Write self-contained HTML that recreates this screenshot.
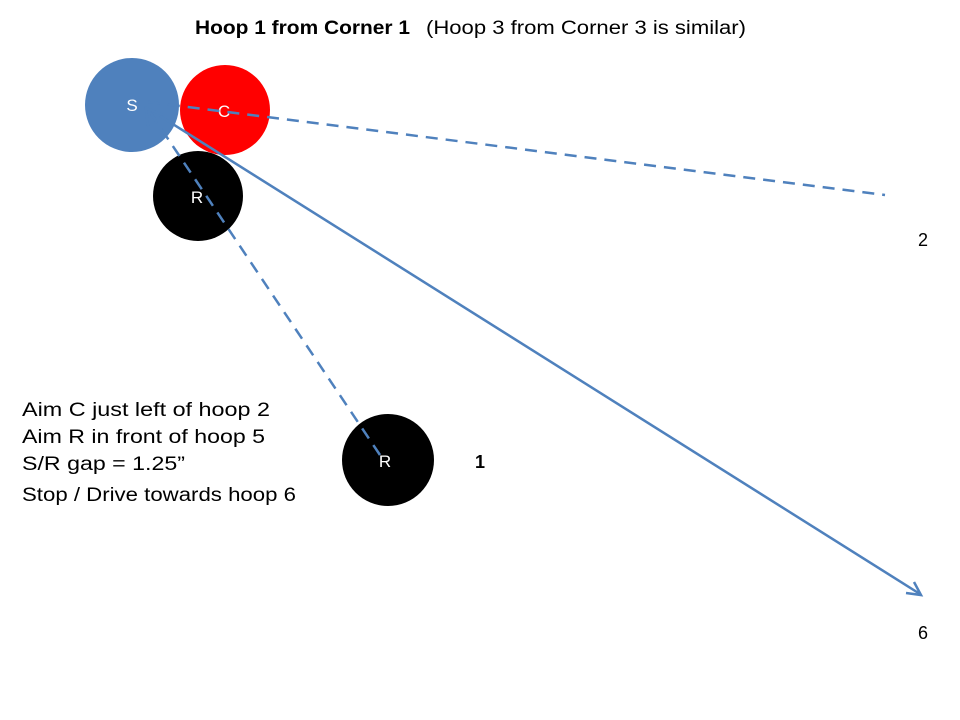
<!DOCTYPE html>
<html><head><style>
body{margin:0;background:#fff;}
svg{display:block;font-family:"Liberation Sans",Calibri,sans-serif;}
</style></head><body>
<svg width="960" height="720" viewBox="0 0 960 720">
<rect width="960" height="720" fill="#fff"/>
<text x="195" y="34" font-size="19" font-weight="bold" fill="#000" textLength="215" lengthAdjust="spacingAndGlyphs">Hoop 1 from Corner 1</text>
<text x="426" y="34" font-size="19" fill="#000" textLength="320" lengthAdjust="spacingAndGlyphs">(Hoop 3 from Corner 3 is similar)</text>
<circle cx="132" cy="105" r="47" fill="#4f81bd"/>
<circle cx="225" cy="110" r="45" fill="#ff0000"/>
<circle cx="198" cy="196" r="45" fill="#000"/>
<circle cx="388" cy="460" r="46" fill="#000"/>
<text x="132" y="111" font-size="17" fill="#fff" text-anchor="middle">S</text>
<text x="224" y="117" font-size="17" fill="#fff" text-anchor="middle">C</text>
<text x="197" y="203" font-size="17" fill="#fff" text-anchor="middle">R</text>
<text x="385" y="467" font-size="17" fill="#fff" text-anchor="middle">R</text>
<g stroke="#4f81bd" stroke-width="2.5" fill="none">
<line x1="148" y1="102" x2="885" y2="195" stroke-dasharray="12,8"/>
<line x1="160" y1="116" x2="920" y2="594"/>
<polyline points="906,593 921,595 914,582"/>
<line x1="380" y1="455" x2="150" y2="112" stroke-dasharray="12,8"/>
<polyline points="148,126 146,108 163,115"/>
</g>
<text x="918" y="246" font-size="18" fill="#000">2</text>
<text x="475" y="468" font-size="18" font-weight="bold" fill="#000">1</text>
<text x="918" y="639" font-size="18" fill="#000">6</text>
<g font-size="19" fill="#000" lengthAdjust="spacingAndGlyphs">
<text x="22" y="416" textLength="248" lengthAdjust="spacingAndGlyphs">Aim C just left of hoop 2</text>
<text x="22" y="443" textLength="243" lengthAdjust="spacingAndGlyphs">Aim R in front of hoop 5</text>
<text x="22" y="470" textLength="163" lengthAdjust="spacingAndGlyphs">S/R gap = 1.25”</text>
<text x="22" y="501" textLength="274" lengthAdjust="spacingAndGlyphs">Stop / Drive towards hoop 6</text>
</g>
</svg>
</body></html>
